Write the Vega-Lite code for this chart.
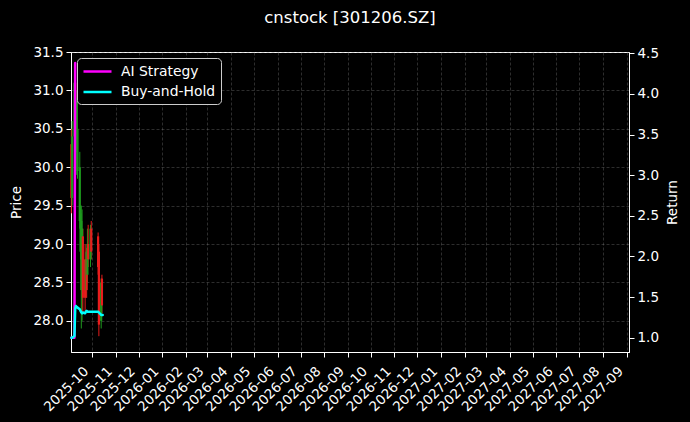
{
  "$schema": "https://vega.github.io/schema/vega-lite/v6.json",
  "width": 558,
  "height": 300,
  "autosize": {"type": "none"},
  "padding": {"left": 71, "top": 52, "right": 61, "bottom": 70},
  "background": "black",
  "title": {"text": "cnstock [301206.SZ]", "color": "white", "fontSize": 16.5, "font": "DejaVu Sans", "fontWeight": "normal", "offset": 19},
  "config": {
    "view": {"stroke": "white", "strokeWidth": 1},
    "font": "DejaVu Sans",
    "axis": {
      "domainColor": "white", "tickColor": "white", "labelColor": "white", "titleColor": "white",
      "labelFont": "DejaVu Sans", "titleFont": "DejaVu Sans", "labelFontSize": 13.5, "titleFontSize": 13.5,
      "titleFontWeight": "normal", "tickSize": 5, "labelPadding": 3,
      "gridColor": "#8a8a8a", "gridOpacity": 0.55, "gridDash": [3, 2], "gridWidth": 0.6
    },
    "legend": {"labelColor": "white", "labelFont": "DejaVu Sans", "labelFontSize": 13.9}
  },
  "datasets": {
    "candles": [
      {"date": "2025-09-04", "open": 30.3, "high": 30.5, "low": 29.4, "close": 29.6},
      {"date": "2025-09-05", "open": 29.6, "high": 30.6, "low": 29.5, "close": 30.4},
      {"date": "2025-09-08", "open": 30.4, "high": 31.35, "low": 30.2, "close": 31.1},
      {"date": "2025-09-09", "open": 31.1, "high": 31.3, "low": 30.3, "close": 30.5},
      {"date": "2025-09-10", "open": 30.5, "high": 31.0, "low": 30.2, "close": 30.8},
      {"date": "2025-09-11", "open": 30.2, "high": 31.0, "low": 29.9, "close": 30.9},
      {"date": "2025-09-12", "open": 29.95, "high": 30.9, "low": 29.85, "close": 30.5},
      {"date": "2025-09-15", "open": 29.3, "high": 30.2, "low": 29.2, "close": 30.0},
      {"date": "2025-09-16", "open": 28.9, "high": 29.5, "low": 28.8, "close": 29.4},
      {"date": "2025-09-17", "open": 28.4, "high": 29.5, "low": 27.9, "close": 29.3},
      {"date": "2025-09-18", "open": 28.9, "high": 29.45, "low": 28.0, "close": 29.2},
      {"date": "2025-09-19", "open": 29.1, "high": 29.2, "low": 28.1, "close": 28.3},
      {"date": "2025-09-22", "open": 28.8, "high": 29.0, "low": 28.1, "close": 28.3},
      {"date": "2025-09-23", "open": 28.4, "high": 28.9, "low": 28.3, "close": 28.8},
      {"date": "2025-09-24", "open": 28.8, "high": 28.95, "low": 28.3, "close": 28.4},
      {"date": "2025-09-25", "open": 28.6, "high": 29.2, "low": 28.5, "close": 29.0},
      {"date": "2025-09-26", "open": 29.0, "high": 29.25, "low": 28.7, "close": 28.8},
      {"date": "2025-09-29", "open": 28.8, "high": 29.25, "low": 28.7, "close": 29.2},
      {"date": "2025-09-30", "open": 29.2, "high": 29.3, "low": 28.8, "close": 28.9},
      {"date": "2025-10-09", "open": 29.1, "high": 29.15, "low": 28.6, "close": 28.7},
      {"date": "2025-10-10", "open": 28.9, "high": 29.0, "low": 27.8, "close": 27.95},
      {"date": "2025-10-13", "open": 28.0, "high": 28.55, "low": 27.9, "close": 28.5},
      {"date": "2025-10-14", "open": 28.55, "high": 28.6, "low": 28.1, "close": 28.2}
    ],
    "returns": [
      {"date": "2025-09-04", "series": "AI Strategy", "value": 1.0},
      {"date": "2025-09-05", "series": "AI Strategy", "value": 1.0},
      {"date": "2025-09-08", "series": "AI Strategy", "value": 1.0},
      {"date": "2025-09-09", "series": "AI Strategy", "value": 4.38},
      {"date": "2025-09-04", "series": "Buy-and-Hold", "value": 1.0},
      {"date": "2025-09-05", "series": "Buy-and-Hold", "value": 1.0},
      {"date": "2025-09-08", "series": "Buy-and-Hold", "value": 1.02},
      {"date": "2025-09-09", "series": "Buy-and-Hold", "value": 1.36},
      {"date": "2025-09-10", "series": "Buy-and-Hold", "value": 1.39},
      {"date": "2025-09-11", "series": "Buy-and-Hold", "value": 1.38},
      {"date": "2025-09-12", "series": "Buy-and-Hold", "value": 1.37},
      {"date": "2025-09-15", "series": "Buy-and-Hold", "value": 1.35},
      {"date": "2025-09-16", "series": "Buy-and-Hold", "value": 1.33},
      {"date": "2025-09-17", "series": "Buy-and-Hold", "value": 1.31},
      {"date": "2025-09-18", "series": "Buy-and-Hold", "value": 1.30},
      {"date": "2025-09-19", "series": "Buy-and-Hold", "value": 1.31},
      {"date": "2025-09-22", "series": "Buy-and-Hold", "value": 1.30},
      {"date": "2025-09-23", "series": "Buy-and-Hold", "value": 1.32},
      {"date": "2025-09-24", "series": "Buy-and-Hold", "value": 1.33},
      {"date": "2025-09-25", "series": "Buy-and-Hold", "value": 1.32},
      {"date": "2025-09-26", "series": "Buy-and-Hold", "value": 1.32},
      {"date": "2025-09-29", "series": "Buy-and-Hold", "value": 1.32},
      {"date": "2025-09-30", "series": "Buy-and-Hold", "value": 1.32},
      {"date": "2025-10-09", "series": "Buy-and-Hold", "value": 1.32},
      {"date": "2025-10-10", "series": "Buy-and-Hold", "value": 1.31},
      {"date": "2025-10-13", "series": "Buy-and-Hold", "value": 1.28},
      {"date": "2025-10-14", "series": "Buy-and-Hold", "value": 1.28},
      {"date": "2025-10-15", "series": "Buy-and-Hold", "value": 1.28}
    ]
  },
  "layer": [
    {
      "data": {"name": "candles"},
      "layer": [
        {
          "mark": {"type": "rule", "strokeWidth": 1},
          "encoding": {
            "x": {
              "field": "date", "type": "temporal",
              "scale": {"type": "utc", "domain": ["2025-09-03T12:00:00Z", "2027-09-04T00:00:00Z"], "nice": false},
              "axis": {"title": null, "format": "%Y-%m", "tickCount": {"interval": "month", "step": 1}, "labelAngle": -45, "labelAlign": "right", "labelBaseline": "top", "labelOffset": -11, "labelPadding": 7, "grid": true, "labelOverlap": false}
            },
            "y": {"field": "low", "type": "quantitative", "scale": {"domain": [27.594, 31.5], "nice": false, "zero": false},
                  "axis": {"title": "Price", "values": [28.0, 28.5, 29.0, 29.5, 30.0, 30.5, 31.0, 31.5], "format": ".1f", "grid": true, "titlePadding": 9}},
            "y2": {"field": "high"},
            "color": {"condition": {"test": "datum.close >= datum.open", "value": "#1e9a1e"}, "value": "#e81c1c"}
          }
        },
        {
          "mark": {"type": "rule", "strokeWidth": 2.2},
          "encoding": {
            "x": {"field": "date", "type": "temporal"},
            "y": {"field": "open", "type": "quantitative"},
            "y2": {"field": "close"},
            "color": {"condition": {"test": "datum.close >= datum.open", "value": "#1e9a1e"}, "value": "#e81c1c"}
          }
        }
      ]
    },
    {
      "data": {"name": "returns"},
      "mark": {"type": "line", "strokeWidth": 2.5, "strokeCap": "round", "strokeJoin": "round"},
      "encoding": {
        "x": {"field": "date", "type": "temporal"},
        "y": {"field": "value", "type": "quantitative", "scale": {"domain": [0.824, 4.516], "nice": false, "zero": false},
              "axis": {"title": "Return", "orient": "right", "titleAngle": 270, "titleBaseline": "top", "values": [1.0, 1.5, 2.0, 2.5, 3.0, 3.5, 4.0, 4.5], "format": ".1f", "grid": false, "titlePadding": 7}},
        "color": {"field": "series", "type": "nominal",
                  "scale": {"domain": ["AI Strategy", "Buy-and-Hold"], "range": ["#ff00ff", "#00ffff"]},
                  "legend": {"title": null, "orient": "top-left", "offset": 6, "padding": 5, "strokeColor": "#cccccc", "fillColor": "black", "cornerRadius": 4,
                             "symbolType": "M-1,0H3", "symbolSize": 196, "symbolStrokeWidth": 2.5, "symbolFillColor": "transparent", "labelOffset": 22, "rowPadding": 4.5}}
      }
    }
  ],
  "resolve": {"scale": {"y": "independent"}}
}
